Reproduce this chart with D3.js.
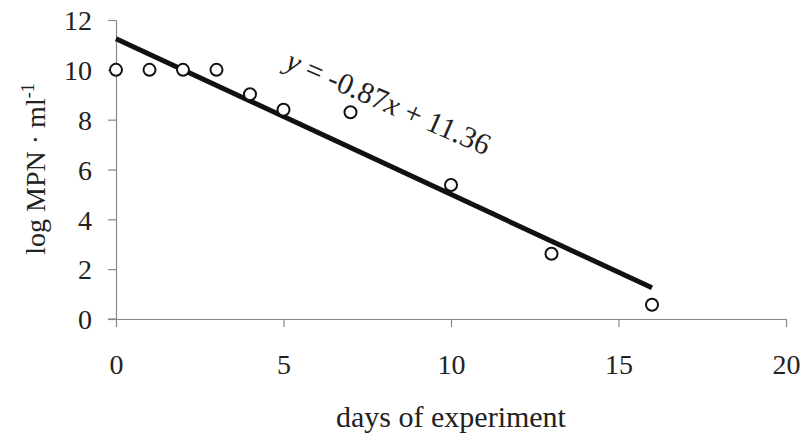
<!DOCTYPE html>
<html>
<head>
<meta charset="utf-8">
<script src="https://cdn.jsdelivr.net/npm/d3@7"></script>
<style>
	body{margin:0;background:#fff;}
</style>
</head>
<body>
<div id="chart"></div>
<script>
var days=[0,1,2,3,4,5,7,10,13,16],
	logMPN=[10,10,10,10,9.02,8.4,8.3,5.38,2.62,0.57];

// trend line as drawn in the picture (ends)
var trendX=[0,16],
	trendY=[11.25,1.25];

var xTicks=[0,5,10,15,20],
	yTicks=[0,2,4,6,8,10,12];

var equation="y = -0.87x + 11.36";

var WIDTH=803,
	HEIGHT=437,
	FONT="'Liberation Serif', 'DejaVu Serif', serif";

var margin={left:116,right:17,top:20,bottom:118};

var svg=d3.select("#chart")
			.append("svg")
				.attr("width",WIDTH)
				.attr("height",HEIGHT)
				.style("font-family",FONT);

var xscale=d3.scaleLinear()
				.domain([0,20])
				.range([margin.left,WIDTH-margin.right]);

var yscale=d3.scaleLinear()
				.domain([0,12])
				.range([HEIGHT-margin.bottom,margin.top]);

// axes
var xAxis=d3.axisBottom(xscale)
				.tickValues(xTicks)
				.tickSize(8)
				.tickPadding(27)
				.tickSizeOuter(0);

var yAxis=d3.axisLeft(yscale)
				.tickValues(yTicks)
				.tickSize(8)
				.tickPadding(16)
				.tickSizeOuter(0);

var gx=svg.append("g")
			.attr("transform","translate(0,"+yscale(0)+")")
			.call(xAxis);

var gy=svg.append("g")
			.attr("transform","translate("+xscale(0)+",0)")
			.call(yAxis);

[gx,gy].forEach(function(g){
	g.attr("font-family",FONT).attr("font-size",27);
	g.selectAll("path.domain,line").attr("stroke","#888").attr("stroke-width",1.2);
	g.selectAll("text")
		.style("font-family",FONT)
		.style("font-size","28px")
		.attr("fill","#222");
});
gx.selectAll("text").attr("dy","0.71em");
gy.selectAll("text").attr("dy","0.35em");

// x axis line starts left of the y axis
gx.append("line")
	.attr("x1",xscale(0)-8)
	.attr("x2",xscale(0))
	.attr("stroke","#888")
	.attr("stroke-width",1.2);

// trend line
svg.append("line")
	.attr("x1",xscale(trendX[0]))
	.attr("y1",yscale(trendY[0]))
	.attr("x2",xscale(trendX[1]))
	.attr("y2",yscale(trendY[1]))
	.attr("stroke","#111")
	.attr("stroke-width",5)
	.attr("stroke-linecap","butt");

// points
svg.append("g")
	.selectAll("circle")
	.data(days)
	.enter()
		.append("circle")
			.attr("cx",function(d){ return xscale(d); })
			.attr("cy",function(d,i){ return yscale(logMPN[i]); })
			.attr("r",6)
			.attr("fill","#fff")
			.attr("stroke","#111")
			.attr("stroke-width",2);

// equation label
var eq=svg.append("text")
			.attr("transform","translate(284,68) rotate(23.5)")
			.attr("fill","#222")
			.style("font-family",FONT)
			.style("font-size","30px");
var parts=equation.split(/([xy])/);
parts.forEach(function(p){
	if(!p) return;
	eq.append("tspan")
		.style("font-style",(p=="x"||p=="y")?"italic":"normal")
		.text(p);
});

// axis titles
svg.append("text")
	.attr("x",(xscale(0)+xscale(20))/2)
	.attr("y",427)
	.attr("text-anchor","middle")
	.attr("fill","#222")
	.style("font-family",FONT)
	.style("font-size","30px")
	.text("days of experiment");

var yl=svg.append("text")
			.attr("transform","translate(45,169) rotate(-90)")
			.attr("text-anchor","middle")
			.attr("fill","#222")
			.style("font-family",FONT)
			.style("font-size","28px");
yl.append("tspan").text("log MPN · ml");
yl.append("tspan").attr("dy","-11").style("font-size","18px").text("-1");
</script>
</body>
</html>
